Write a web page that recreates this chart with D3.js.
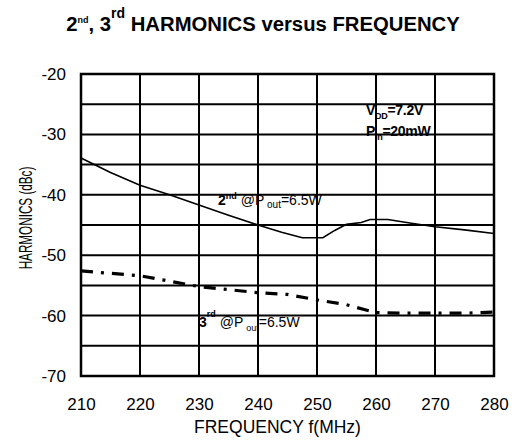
<!DOCTYPE html>
<html><head><meta charset="utf-8">
<script src="https://cdn.jsdelivr.net/npm/d3@7"></script>
<style>body{margin:0;background:#fff}svg{display:block;font-family:"Liberation Sans",Arial,sans-serif}</style>
</head><body><svg id="c" width="512" height="441"></svg>
<script>
const xTicks = [210,220,230,240,250,260,270,280];
const yTicks = [-20,-30,-40,-50,-60,-70];
const yGrid = [-20,-25,-30,-35,-40,-45,-50,-55,-60,-65,-70];
const freq2 = [210,215,220,225,230,235,240,244,247.5,251,253,255,257.5,259,262,266,270,275,280];
const h2    = [-33.9,-36.3,-38.4,-40.0,-41.7,-43.4,-45.0,-46.2,-47.1,-47.1,-45.9,-44.9,-44.6,-44.1,-44.1,-44.7,-45.3,-45.8,-46.4];
const freq3 = [210,215,220,225,230,235,240,245,250,255,258,260,265,270,275,280];
const h3    = [-52.6,-53.0,-53.4,-54.3,-55.2,-55.7,-56.2,-56.5,-57.4,-58.2,-59.0,-59.5,-59.6,-59.6,-59.6,-59.4];

const FF = "Liberation Sans, Arial, sans-serif";
const svg = d3.select("#c");
const x = d3.scaleLinear().domain([210,280]).range([81,494]);
const y = d3.scaleLinear().domain([-20,-70]).range([74,376]);

// grid
svg.append("g").selectAll("line").data(xTicks).join("line")
  .attr("x1",d=>x(d)).attr("x2",d=>x(d)).attr("y1",y(-20)).attr("y2",y(-70))
  .attr("stroke","#000").attr("stroke-width",2);
svg.append("g").selectAll("line").data(yGrid).join("line")
  .attr("x1",x(210)).attr("x2",x(280)).attr("y1",d=>y(d)).attr("y2",d=>y(d))
  .attr("stroke","#000").attr("stroke-width",2);
svg.append("rect").attr("x",x(210)).attr("y",y(-20)).attr("width",x(280)-x(210)).attr("height",y(-70)-y(-20))
  .attr("fill","none").attr("stroke","#000").attr("stroke-width",2.5);

// axes labels via d3 axes
const ax = svg.append("g").attr("transform",`translate(0,${y(-70)})`)
  .call(d3.axisBottom(x).tickValues(xTicks).tickSize(0).tickPadding(22).tickFormat(d=>String(d)));
ax.select(".domain").remove();
ax.selectAll("text").attr("font-size",17).attr("fill","#000").attr("font-family",FF);
const ay = svg.append("g").attr("transform",`translate(${x(210)},0)`)
  .call(d3.axisLeft(y).tickValues(yTicks).tickSize(0).tickPadding(15).tickFormat(d=>String(d)));
ay.select(".domain").remove();
ay.selectAll("text").attr("font-size",17).attr("fill","#000").attr("font-family",FF);

svg.append("text").attr("x",(x(210)+x(280))/2 - 10).attr("y",433).attr("text-anchor","middle")
  .attr("font-size",17.5).text("FREQUENCY f(MHz)");
svg.append("text").attr("transform","translate(32,218) rotate(-90) scale(0.65,1)").attr("text-anchor","middle")
  .attr("font-size",18).text("HARMONICS (dBc)");

// title
const t = svg.append("text").attr("x",263).attr("y",31).attr("text-anchor","middle")
  .attr("font-weight","bold").attr("font-size",20.3);
t.append("tspan").text("2");
t.append("tspan").attr("font-size",9).attr("dy",-8).text("nd");
t.append("tspan").attr("dy",8).text(", 3");
t.append("tspan").attr("font-size",14).attr("dy",-13).text("rd");
t.append("tspan").attr("dy",13).text(" HARMONICS versus FREQUENCY");

// lines
const line = d3.line().x(d=>x(d[0])).y(d=>y(d[1]));
svg.append("path").datum(freq2.map((f,i)=>[f,h2[i]])).attr("d",line)
  .attr("fill","none").attr("stroke","#000").attr("stroke-width",1.6);
svg.append("path").datum(freq3.map((f,i)=>[f,h3[i]])).attr("d",line)
  .attr("fill","none").attr("stroke","#000").attr("stroke-width",3.2)
  .attr("stroke-dasharray","12,8,3,8");

// annotations
const a2 = svg.append("text").attr("x",218).attr("y",205).attr("font-size",14);
a2.append("tspan").attr("font-weight","bold").text("2");
a2.append("tspan").attr("font-weight","bold").attr("font-size",9).attr("dy",-6).text("nd");
a2.append("tspan").attr("dy",6).text(" @P");
a2.append("tspan").attr("font-size",10).attr("dy",3).text(" out");
a2.append("tspan").attr("dy",-3).text("=6.5W");

const a3 = svg.append("text").attr("x",199).attr("y",327).attr("font-size",14);
a3.append("tspan").attr("font-weight","bold").text("3");
a3.append("tspan").attr("font-weight","bold").attr("font-size",9).attr("dy",-10).text("rd");
a3.append("tspan").attr("dy",10).text("  @P");
a3.append("tspan").attr("font-size",9).attr("dy",4).attr("dx",3).text("out");
a3.append("tspan").attr("dy",-4).text("=6.5W");

const v = svg.append("text").attr("x",366).attr("y",115).attr("font-size",14).attr("font-weight","bold").attr("letter-spacing",-0.3);
v.append("tspan").text("V");
v.append("tspan").attr("font-size",9).attr("dy",4).text("DD");
v.append("tspan").attr("dy",-4).text("=7.2V");
const p = svg.append("text").attr("x",366).attr("y",136).attr("font-size",14).attr("font-weight","bold").attr("letter-spacing",-0.3);
p.append("tspan").text("P");
p.append("tspan").attr("font-size",9).attr("dy",4).text("in");
p.append("tspan").attr("dy",-4).text("=20mW");
</script></body></html>
